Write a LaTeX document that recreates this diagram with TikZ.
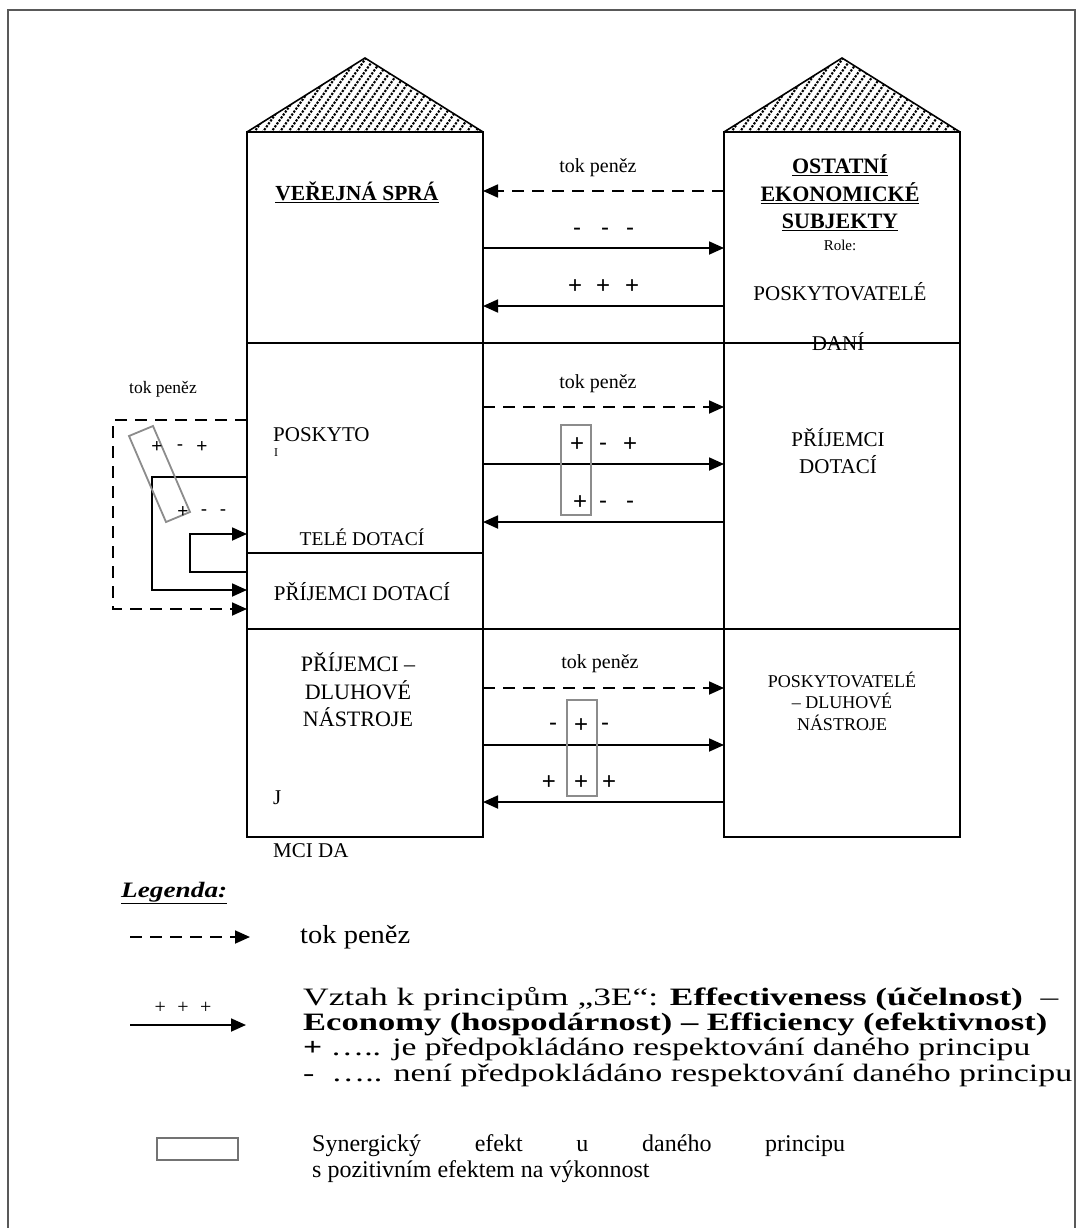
\documentclass[tikz,border=0pt]{standalone}
\usepackage{fontspec}
\setmainfont{Liberation Serif}
\newfontfamily\sgnfont{Liberation Sans}
\usetikzlibrary{arrows.meta}
\newcommand{\myfs}[1]{\fontsize{#1}{#1}\selectfont}
\newcommand{\wide}[2]{\resizebox{#1}{\height}{#2}}
\begin{document}
\begin{tikzpicture}[x=1pt,y=-1pt,
  wall/.style={line width=1.6pt},
  flow/.style={line width=1.8pt,-{Triangle[length=15pt,width=13pt]}},
  money/.style={flow,dash pattern=on 12pt off 8pt},
  syn/.style={draw=black!45,line width=1.8pt},
  lbl/.style={inner sep=0pt,font=\myfs{21}},
  sgn/.style={inner sep=0pt,font=\sgnfont\myfs{24}},
  sgns/.style={inner sep=0pt,font=\sgnfont\myfs{19}},
  lgd/.style={inner sep=0pt,anchor=west,font=\myfs{25}},
  hatch/.style={line width=2.1pt,dash pattern=on 2.2pt off 1.4pt},
]
\useasboundingbox (0,0) rectangle (1083,1228);
\fill[white] (0,0) rectangle (1083,1228);
\draw[line width=1.5pt,black!65] (8,1228) -- (8,10) -- (1075,10) -- (1075,1228);

% roofs
\foreach \ax in {365,842}{
  \begin{scope}
    \clip (\ax-118,132) -- (\ax,58) -- (\ax+118,132) -- cycle;
    \foreach \k in {0,...,40}
      \draw[hatch] (\ax-190+\k*8.5,136) -- ++(60,-85);
  \end{scope}
  \draw[wall] (\ax-118,132) -- (\ax,58) -- (\ax+118,132);
}

% buildings
\draw[wall] (247,132) rectangle (483,837);
\draw[wall] (724,132) rectangle (960,837);
\draw[wall] (247,343) -- (960,343);
\draw[wall] (247,629) -- (960,629);
\draw[wall] (247,553) -- (483,553);

% texts in buildings
\node[lbl,font=\bfseries\myfs{21.5}] (vs) at (357,192) {\underline{VEŘEJNÁ SPRÁ}};
\node[lbl,align=center,font=\bfseries\fontsize{22}{27.5}\selectfont] (oes) at (840,193)
  {\underline{OSTATNÍ}\\\underline{EKONOMICKÉ}\\\underline{SUBJEKTY}};
\node[lbl,font=\myfs{15}] (role) at (840,245) {Role:};
\node[lbl] (pd1) at (840,292) {POSKYTOVATELÉ};
\node[lbl] (pd2) at (838,342) {DANÍ};
\node[lbl,anchor=west] (posk) at (273,435) {POSKYTO};
\node[lbl,font=\myfs{12}] (curs) at (276,453) {I};
\node[lbl,font=\myfs{19.5}] (tele) at (362,537) {TELÉ DOTACÍ};
\node[lbl] (pdot) at (362,592) {PŘÍJEMCI DOTACÍ};
\node[lbl,align=center,font=\fontsize{21}{27.5}\selectfont] (pdr) at (838,451) {PŘÍJEMCI\\DOTACÍ};
\node[lbl,align=center,font=\fontsize{22}{27.5}\selectfont] (pdl) at (358,690) {PŘÍJEMCI –\\DLUHOVÉ\\NÁSTROJE};
\node[lbl,align=center,font=\fontsize{18}{21.5}\selectfont] (pdn) at (842,701) {POSKYTOVATELÉ\\– DLUHOVÉ\\NÁSTROJE};
\node[lbl,anchor=west] (jj) at (273,798) {J};
\node[lbl,anchor=west] (mci) at (273,851) {MCI DA};

% arrows between the buildings
\foreach \n/\y in {a/191,b/248,c/306,d/407,e/464,f/522,g/688,h/745,i/802}{
  \coordinate (\n L) at (483,\y);
  \coordinate (\n R) at (724,\y);
}
\draw[money] (aR) -- (aL);
\draw[flow] (bL) -- (bR);
\draw[flow] (cR) -- (cL);
\draw[money] (dL) -- (dR);
\draw[flow] (eL) -- (eR);
\draw[flow] (fR) -- (fL);
\draw[money] (gL) -- (gR);
\draw[flow] (hL) -- (hR);
\draw[flow] (iR) -- (iL);

\node[lbl,font=\myfs{20}] (tp1) at (598,168) {tok peněz};
\node[lbl,font=\myfs{20}] (tp2) at (598,384) {tok peněz};
\node[lbl,font=\myfs{20}] (tp3) at (600,664) {tok peněz};

\node[sgn] (s1a) at (577,232) {-};
\node[sgn] (s1b) at (605,232) {-};
\node[sgn] (s1c) at (630,232) {-};
\node[sgn] (s2a) at (575,287) {+};
\node[sgn] (s2b) at (603,287) {+};
\node[sgn] (s2c) at (632,287) {+};

\draw[syn] (561,425) rectangle (591,515);
\node[sgn] (s3a) at (577,445) {+};
\node[sgn] (s3b) at (603,447) {-};
\node[sgn] (s3c) at (630,445) {+};
\node[sgn] (s4a) at (580,503) {+};
\node[sgn] (s4b) at (603,505) {-};
\node[sgn] (s4c) at (630,505) {-};

\draw[syn] (567,700) rectangle (597,796);
\node[sgn] (s5a) at (553,727) {-};
\node[sgn] (s5b) at (581,726) {+};
\node[sgn] (s5c) at (605,727) {-};
\node[sgn] (s6a) at (549,783) {+};
\node[sgn] (s6b) at (581,783) {+};
\node[sgn] (s6c) at (609,783) {+};

% left loop
\coordinate (m1) at (247,420);
\coordinate (m2) at (247,609);
\draw[money] (m1) -- (113,420) -- (113,609) -- (m2);
\coordinate (n1) at (247,477);
\coordinate (n2) at (247,590);
\draw[flow] (n1) -- (152,477) -- (152,590) -- (n2);
\coordinate (q1) at (247,572);
\coordinate (q2) at (247,534);
\draw[flow] (q1) -- (190,572) -- (190,534) -- (q2);
\node[lbl,font=\myfs{17.5}] (tp4) at (163,389) {tok peněz};
\draw[syn] (129,436) -- (153,426) -- (190,512) -- (166,522) -- cycle;
\node[sgns] (s7a) at (157,447) {+};
\node[sgns] (s7b) at (180,448) {-};
\node[sgns] (s7c) at (202,447) {+};
\node[sgns] (s8a) at (183,512) {+};
\node[sgns] (s8b) at (204,513) {-};
\node[sgns] (s8c) at (223,513) {-};

% legend
\node[lbl,anchor=west,font=\bfseries\itshape\myfs{22}] (leg) at (121,893) {\underline{\wide{106pt}{Legenda:}}};
\coordinate (la) at (130,937);
\coordinate (lb) at (250,937);
\draw[money] (la) -- (lb);
\node[lgd,font=\myfs{26}] (lt1) at (300,937) {\wide{110pt}{tok peněz}};
\coordinate (lc) at (130,1025);
\coordinate (ld) at (246,1025);
\draw[flow] (lc) -- (ld);
\node[lbl,font=\myfs{20}] (lpl) at (183,1008) {\makebox[57pt][s]{+ + +}};
\node[lgd] (lt2) at (303,999) {\wide{755pt}{Vztah k principům „3E“: \textbf{Effectiveness (účelnost)} \ –}};
\node[lgd] (lt3) at (303,1024) {\wide{744pt}{\textbf{Economy (hospodárnost) – Efficiency (efektivnost)}}};
\node[lgd] (lt4) at (303,1049) {\wide{727pt}{\textbf{+} ….. je předpokládáno respektování daného principu}};
\node[lgd] (lt5) at (303,1075) {\wide{769pt}{-\ \ ….. není předpokládáno respektování daného principu}};
\draw[draw=black!55,line width=1.5pt] (157,1138) rectangle (238,1160);
\node[lgd,font=\myfs{24}] (lt6) at (312,1146) {\makebox[533pt][s]{Synergický efekt u daného principu}};
\node[lgd,font=\myfs{24}] (lt7) at (312,1172) {s pozitivním efektem na výkonnost};
\end{tikzpicture}
\end{document}
